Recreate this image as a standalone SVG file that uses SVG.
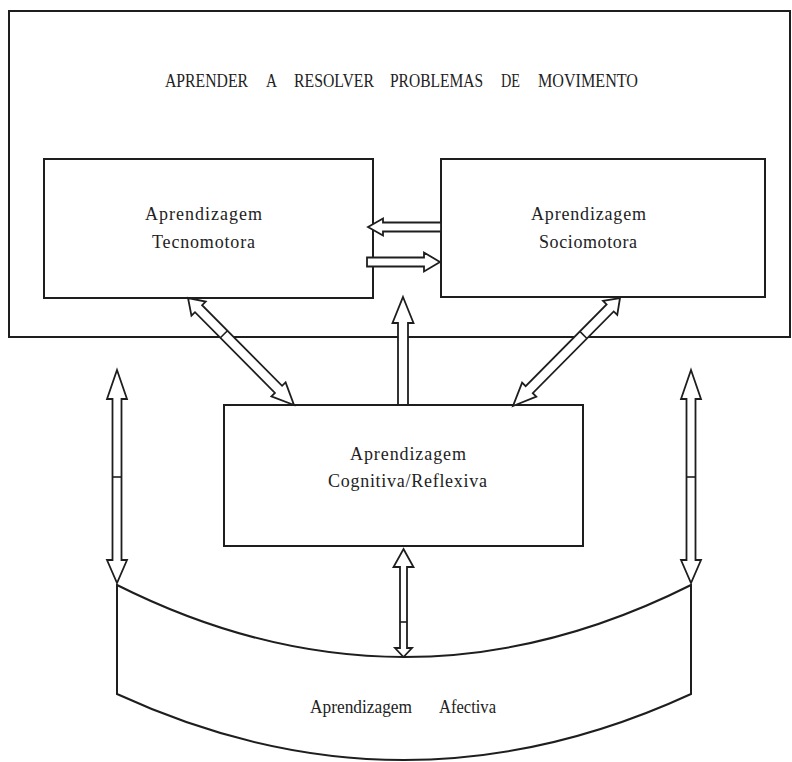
<svg xmlns="http://www.w3.org/2000/svg" width="792" height="762" viewBox="0 0 792 762">
<style>
.ln{fill:none;stroke:#1e1e1e;stroke-width:2}
.bx{fill:#fff;stroke:#1e1e1e;stroke-width:2}
.ar{fill:#fff;stroke:#1e1e1e;stroke-width:1.8;stroke-linejoin:miter}
.dv{stroke:#1e1e1e;stroke-width:1.6}
.t{font-family:"Liberation Serif","Times New Roman",serif;fill:#222}
.tt{font-size:18px}
.bt{font-size:18px}
</style>
<rect width="792" height="762" fill="#fff"/>
<g id="outer">
<rect class="ln" x="9" y="11" width="781" height="326"/>
<text class="t tt" y="87"><tspan x="165" textLength="83" lengthAdjust="spacingAndGlyphs">APRENDER</tspan><tspan x="266" textLength="11" lengthAdjust="spacingAndGlyphs">A</tspan><tspan x="294" textLength="80" lengthAdjust="spacingAndGlyphs">RESOLVER</tspan><tspan x="390" textLength="93" lengthAdjust="spacingAndGlyphs">PROBLEMAS</tspan><tspan x="501" textLength="19" lengthAdjust="spacingAndGlyphs">DE</tspan><tspan x="538" textLength="100" lengthAdjust="spacingAndGlyphs">MOVIMENTO</tspan></text>
</g>
<g id="tecnomotora">
<rect class="bx" x="44" y="159" width="329" height="139"/>
<text class="t bt" x="145" y="220" textLength="117" lengthAdjust="spacing">Aprendizagem</text>
<text class="t bt" x="152" y="248" textLength="103" lengthAdjust="spacing">Tecnomotora</text>
</g>
<g id="sociomotora">
<rect class="bx" x="441" y="159" width="324" height="138"/>
<text class="t bt" x="531" y="220" textLength="115" lengthAdjust="spacing">Aprendizagem</text>
<text class="t bt" x="539" y="248" textLength="98" lengthAdjust="spacing">Sociomotora</text>
</g>
<g id="cognitiva">
<rect class="bx" x="224" y="405" width="359" height="141"/>
<text class="t bt" x="350" y="460" textLength="116" lengthAdjust="spacing">Aprendizagem</text>
<text class="t bt" x="328" y="487" textLength="159" lengthAdjust="spacing">Cognitiva/Reflexiva</text>
</g>
<g id="afectiva">
<path class="ln" d="M117,585 Q404,729 691,585 L691,694 Q404,826 117,694 Z"/>
<text class="t tt" y="713"><tspan x="310" textLength="102" lengthAdjust="spacingAndGlyphs">Aprendizagem</tspan><tspan x="439" textLength="57" lengthAdjust="spacingAndGlyphs">Afectiva</tspan></text>
</g>
<g id="connectors">
<polygon class="ar" points="368,227 383,218.5 383,222.5 441,222.5 441,231.5 383,231.5 383,235.5"/>
<polygon class="ar" points="440,262 424,252.5 424,257.5 367,257.5 367,266.5 424,266.5 424,271.5"/>
<polygon class="ar" points="403,297 413.5,323 408,323 408,405 398,405 398,323 392.5,323"/>
<g transform="translate(188,298) rotate(45.27)">
<polygon class="ar" points="0,0 15,-10 15,-5 128.6,-5 128.6,-10 150.6,0 128.6,10 128.6,5 15,5 15,10"/>
<line class="dv" x1="51" y1="-5" x2="51" y2="5"/>
</g>
<g transform="translate(620,298) rotate(134.73)">
<polygon class="ar" points="0,0 14,-10 14,-5 129,-5 129,-10 152,0 129,10 129,5 14,5 14,10"/>
<line class="dv" x1="52" y1="-5" x2="52" y2="5"/>
</g>
<polygon class="ar" points="117,370 127,399 121.5,399 121.5,560 127,560 117,583 107,560 112.5,560 112.5,399 107,399"/>
<line class="dv" x1="112.5" y1="477" x2="121.5" y2="477"/>
<polygon class="ar" points="691,370 701,399 695.5,399 695.5,560 701,560 691,583 681,560 686.5,560 686.5,399 681,399"/>
<line class="dv" x1="686.5" y1="477" x2="695.5" y2="477"/>
<polygon class="ar" points="403.5,549 413.5,567 407,567 407,648 412,648 403.5,657 395,648 400,648 400,567 393.5,567"/>
<line class="dv" x1="400" y1="622" x2="407" y2="622"/>
</g>
</svg>
